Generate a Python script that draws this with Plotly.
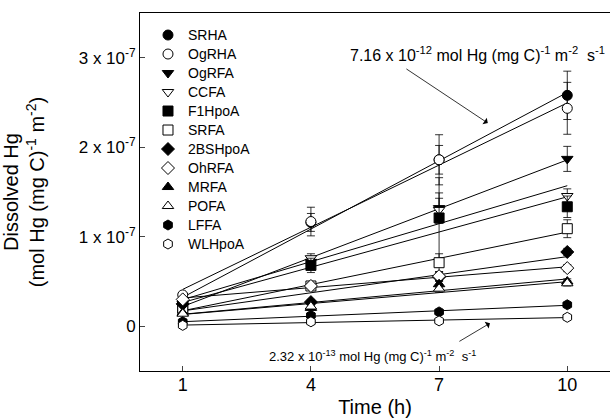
import numpy as np
import plotly.graph_objects as go

# ---- data ----
time_h = [1, 4, 7, 10]
series_names = ["SRHA", "OgRHA", "OgRFA", "CCFA", "F1HpoA", "SRFA",
                "2BSHpoA", "OhRFA", "MRFA", "POFA", "LFFA", "WLHpoA"]
# dissolved Hg, units of 1e-7 mol Hg (mg C)^-1 m^-2
SRHA    = [0.27, 1.16, 1.86, 2.58]
OgRHA   = [0.35, 1.17, 1.86, 2.435]
OgRFA   = [0.25, 0.72, 1.32, 1.87]
CCFA    = [0.22, 0.76, 1.30, 1.455]
F1HpoA  = [0.20, 0.68, 1.21, 1.335]
SRFA    = [0.20, 0.45, 0.71, 1.09]
BSHpoA2 = [0.25, 0.27, 0.55, 0.83]
OhRFA   = [0.30, 0.45, 0.56, 0.65]
MRFA    = [0.15, 0.205, 0.47, 0.50]
POFA    = [0.14, 0.22, 0.42, 0.48]
LFFA    = [0.05, 0.12, 0.16, 0.24]
WLHpoA  = [0.01, 0.05, 0.06, 0.10]
# error bars (same units)
SRHA_err    = [0, 0.10, 0.16, 0.27]
OgRHA_err   = [0, 0.16, 0.28, 0.29]
OgRFA_err   = [0, 0.05, 0.17, 0.14]
CCFA_err    = [0, 0.05, 0.13, 0.08]
F1HpoA_err  = [0, 0.08, 0.45, 0.12]
SRFA_err    = [0, 0.04, 0.10, 0.10]
BSHpoA2_err = [0, 0.03, 0.05, 0.04]
OhRFA_err   = [0, 0.03, 0.05, 0.04]
MRFA_err    = [0, 0.02, 0.04, 0.03]
POFA_err    = [0, 0.02, 0.04, 0.03]
LFFA_err    = [0, 0.01, 0.02, 0.02]
WLHpoA_err  = [0, 0.01, 0.01, 0.01]

values = [SRHA, OgRHA, OgRFA, CCFA, F1HpoA, SRFA, BSHpoA2, OhRFA, MRFA, POFA, LFFA, WLHpoA]
errors = [SRHA_err, OgRHA_err, OgRFA_err, CCFA_err, F1HpoA_err, SRFA_err,
          BSHpoA2_err, OhRFA_err, MRFA_err, POFA_err, LFFA_err, WLHpoA_err]
symbols = ["circle", "circle", "triangle-down", "triangle-down", "square", "square",
           "diamond", "diamond", "triangle-up", "triangle-up", "hexagon", "hexagon"]
filled = [True, False] * 6
scale = 1e-7

y_tickvals = [0, 1e-7, 2e-7, 3e-7]
y_ticktext = ["0", "1 x 10<sup>-7</sup>", "2 x 10<sup>-7</sup>", "3 x 10<sup>-7</sup>"]
x_tickvals = [1, 4, 7, 10]

FONT = "Liberation Sans, Arial, sans-serif"

fig = go.Figure()

# fitted lines
for name, vals in zip(series_names, values):
    v = np.array(vals) * scale
    k, b = np.polyfit(time_h, v, 1)
    xs = np.array([time_h[0], time_h[-1]])
    fig.add_trace(go.Scatter(x=xs, y=k * xs + b, mode="lines",
                             line=dict(color="black", width=1),
                             showlegend=False, hoverinfo="skip"))

# markers with error bars
for name, vals, errs, sym, fil in zip(series_names, values, errors, symbols, filled):
    fig.add_trace(go.Scatter(
        x=time_h, y=[v * scale for v in vals], mode="markers",
        name="<span style='font-size:14px'>" + name + "</span>",
        marker=dict(symbol=sym, size=10, color="black" if fil else "white",
                    line=dict(color="black", width=1)),
        error_y=dict(type="data", array=[e * scale for e in errs], visible=True,
                     color="black", thickness=0.8, width=4),
    ))

fig.add_annotation(x=8.14, y=2.27e-7, ax=6.2, ay=2.886e-7, axref="x", ayref="y",
                   text="", showarrow=True, arrowhead=1, arrowsize=1.6,
                   arrowwidth=0.8, arrowcolor="black")
fig.add_annotation(x=7.91, y=3.04e-7, showarrow=False,
                   text="7.16 x 10<sup>-12</sup> mol Hg (mg C)<sup>-1</sup> m<sup>-2</sup>  s<sup>-1</sup>",
                   font=dict(family=FONT, size=16, color="black"))
fig.add_annotation(x=8.19, y=0.034e-7, ax=7.44, ay=-0.179e-7, axref="x", ayref="y",
                   text="", showarrow=True, arrowhead=1, arrowsize=1.6,
                   arrowwidth=0.8, arrowcolor="black")
fig.add_annotation(x=5.45, y=-0.336e-7, showarrow=False,
                   text="2.32 x 10<sup>-13</sup> mol Hg (mg C)<sup>-1</sup> m<sup>-2</sup>  s<sup>-1</sup>",
                   font=dict(family=FONT, size=13, color="black"))

fig.update_layout(
    width=612, height=418,
    margin=dict(l=140, r=2, t=13, b=47, autoexpand=False),
    paper_bgcolor="white", plot_bgcolor="white",
    font=dict(family=FONT, color="black"),
    showlegend=True,
    legend=dict(x=0.017, y=0.979, xanchor="left", yanchor="top",
                font=dict(family=FONT, size=12), bgcolor="rgba(0,0,0,0)",
                borderwidth=0, tracegroupgap=0),
    xaxis=dict(range=[0, 11], tickvals=x_tickvals, ticks="inside", ticklen=5,
               showline=True, linecolor="black", linewidth=1, mirror=True,
               showgrid=False, zeroline=False, automargin=False,
               ticklabelstandoff=-3,
               tickfont=dict(family=FONT, size=18),
               title=dict(text="Time (h)", font=dict(family=FONT, size=20), standoff=8)),
    yaxis=dict(range=[-0.5e-7, 3.5e-7], tickvals=y_tickvals, ticktext=y_ticktext,
               ticks="inside", ticklen=5, showline=True, linecolor="black",
               linewidth=1, mirror=False, showgrid=False, zeroline=False,
               automargin=False,
               tickfont=dict(family=FONT, size=17),
               title=dict(text="Dissolved Hg<br>(mol Hg (mg C)<sup>-1</sup> m<sup>-2</sup>)",
                          font=dict(family=FONT, size=20), standoff=30)),
)

fig.write_html(
    "out.html",
    config={"displayModeBar": False},
    post_script="document.body.style.margin='0';document.body.style.overflow='hidden';",
)
